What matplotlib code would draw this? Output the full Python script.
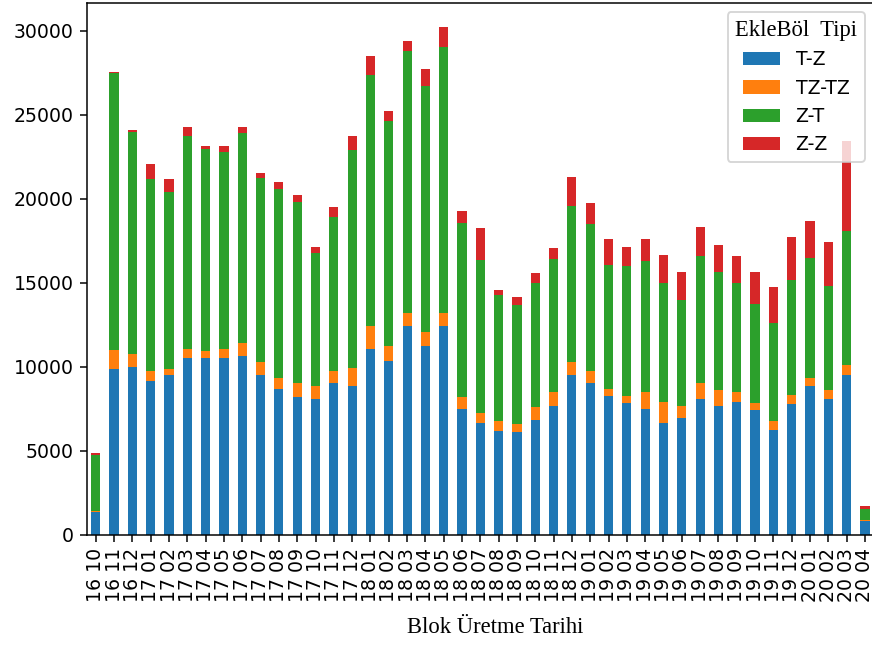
import matplotlib
matplotlib.use("Agg")
import matplotlib.pyplot as plt
import pandas as pd

months = ["16 10", "16 11", "16 12",
          "17 01", "17 02", "17 03", "17 04", "17 05", "17 06",
          "17 07", "17 08", "17 09", "17 10", "17 11", "17 12",
          "18 01", "18 02", "18 03", "18 04", "18 05", "18 06",
          "18 07", "18 08", "18 09", "18 10", "18 11", "18 12",
          "19 01", "19 02", "19 03", "19 04", "19 05", "19 06",
          "19 07", "19 08", "19 09", "19 10", "19 11", "19 12",
          "20 01", "20 02", "20 03", "20 04"]

t_z = [1330, 9845, 10000,
       9165, 9505, 10500, 10500, 10500, 10655,
       9505, 8670, 8180, 8075, 9010, 8830,
       11070, 10340, 12400, 11250, 12400, 7500,
       6665, 6170, 6095, 6830, 7660, 9505,
       9010, 8255, 7840, 7500, 6665, 6925,
       8075, 7660, 7915, 7420, 6250, 7760,
       8830, 8075, 9505, 835]

tz_tz = [100, 1150, 755,
         595, 340, 570, 415, 570, 775,
         755, 675, 830, 755, 750, 1090,
         1350, 910, 780, 835, 780, 680,
         585, 580, 495, 750, 835, 755,
         735, 415, 415, 995, 1250, 735,
         935, 930, 580, 420, 500, 570,
         495, 515, 575, 30]

z_t = [3330, 16485, 13235,
       11390, 10555, 12660, 12060, 11730, 12460,
       10970, 11215, 10810, 7920, 9130, 12980,
       14960, 13390, 15630, 14640, 15865, 10370,
       9080, 7500, 7065, 7400, 7895, 9305,
       8730, 7400, 7740, 7815, 7065, 6330,
       7560, 7065, 6485, 5920, 5830, 6830,
       7165, 6230, 7980, 685]

z_z = [85, 80, 80,
       915, 750, 520, 175, 350, 360,
       315, 415, 420, 390, 600, 830,
       1095, 600, 575, 995, 1175, 700,
       1905, 330, 510, 580, 690, 1745,
       1250, 1510, 1145, 1270, 1670, 1665,
       1745, 1570, 1590, 1895, 2165, 2580,
       2165, 2585, 5390, 155]

df = pd.DataFrame({"T-Z": t_z, "TZ-TZ": tz_tz, "Z-T": z_t, "Z-Z": z_z},
                  index=months)

fig = plt.figure(figsize=(872 / 136, 650 / 136), dpi=136)
ax = fig.add_axes([86.6 / 872, 1 - 534.7 / 650, 787.5 / 872, 532.0 / 650])

df.plot(kind="bar", stacked=True, ax=ax)
ax.set_ylim(0, 31670)

ax.set_xlabel("Blok Üretme Tarihi", family="Liberation Serif", fontsize=12)
ax.xaxis.set_label_coords(0.519, -0.155)

leg = ax.legend(title="EkleBöl  Tipi", loc="upper right",
                title_fontproperties={"family": "Liberation Serif", "size": 12})

fig.savefig("out.png", dpi=136)
